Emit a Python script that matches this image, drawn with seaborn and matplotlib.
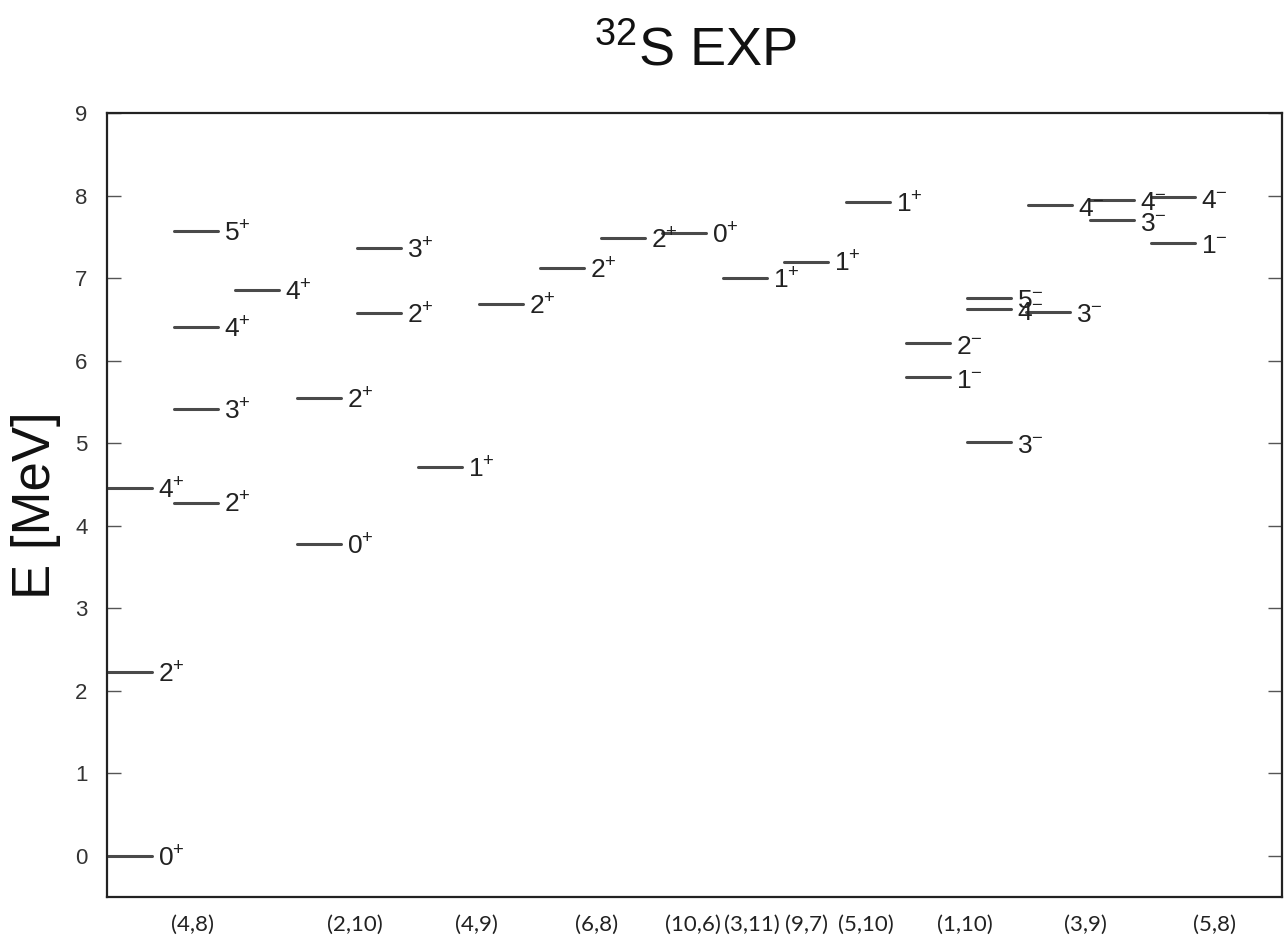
import matplotlib
matplotlib.use("Agg")
import matplotlib.pyplot as plt
import numpy as np
import pandas as pd
import seaborn as sns

# Level energies (MeV), spins, parities and horizontal slot of each level
energies = [0.00, 2.23, 4.46, 4.28, 5.41, 6.41, 7.57, 6.85, 3.78, 5.55,
            6.58, 7.36, 4.71, 6.69, 7.12, 7.48, 7.54, 7.00, 7.20, 7.92,
            5.80, 6.21, 5.01, 6.62, 6.76, 6.59, 7.88, 7.70, 7.95, 7.43, 7.98]
spins = [0, 2, 4, 2, 3, 4, 5, 4, 0, 2,
         2, 3, 1, 2, 2, 2, 0, 1, 1, 1,
         1, 2, 3, 4, 5, 3, 4, 3, 4, 1, 4]
parities = ["+"] * 20 + ["-"] * 11
level_x = [1, 1, 1, 67, 67, 67, 67, 128, 190, 190,
           250, 250, 311, 372, 433, 494, 555, 616, 677, 739,
           799, 799, 860, 860, 860, 919, 921, 983, 983, 1044, 1044]

# Configuration labels along the bottom
config_labels = ["(4,8)", "(2,10)", "(4,9)", "(6,8)", "(10,6)", "(3,11)",
                 "(9,7)", "(5,10)", "(1,10)", "(3,9)", "(5,8)"]
config_pos = [86, 248, 369, 490, 586, 645, 699, 759, 858, 978, 1108]

LEVEL_WIDTH = 44

sns.set_theme(style="ticks")
plt.rcParams["font.family"] = ["Liberation Sans", "DejaVu Sans"]
plt.rcParams["mathtext.fontset"] = "custom"
plt.rcParams["mathtext.rm"] = "Liberation Sans"
plt.rcParams["mathtext.it"] = "Liberation Sans:italic"
plt.rcParams["mathtext.bf"] = "Liberation Sans:bold"
plt.rcParams["mathtext.default"] = "regular"

W, H = 1284, 941
fig = plt.figure(figsize=(W / 100, H / 100), dpi=100)
ax = fig.add_axes([107 / W, 44 / H, (1282 - 107) / W, (897 - 113) / H])

# Long-form table: two endpoints per level
rows = []
for i, (x0, e) in enumerate(zip(level_x, energies)):
    rows.append({"level": i, "x": x0, "E": e})
    rows.append({"level": i, "x": x0 + LEVEL_WIDTH, "E": e})
df = pd.DataFrame(rows)

sns.lineplot(data=df, x="x", y="E", units="level", estimator=None,
             sort=False, color="#4a4a4a", linewidth=2.2, ax=ax)

for x0, e, j, p in zip(level_x, energies, spins, parities):
    ax.annotate(f"${j}^{{{p}}}$", xy=(x0 + LEVEL_WIDTH, e),
                xytext=(4, -7.5), textcoords="offset points",
                ha="left", va="baseline", fontsize=19, color="#222222")

ax.set_xlim(0, 1175)
ax.set_ylim(-0.5, 9)
ax.set_yticks(range(0, 10))
ax.set_xticks(config_pos)
ax.set_xticklabels(config_labels, fontfamily="Lato", fontsize=16, color="#222222")
ax.set_xlabel("")
ax.set_ylabel("")

ax.tick_params(axis="y", direction="in", length=10, width=1, left=True,
               right=True, labelsize=16, pad=14, labelcolor="#333333",
               color="#555555")
ax.tick_params(axis="x", length=0, pad=13)

for side in ["left", "right", "top", "bottom"]:
    ax.spines[side].set_visible(True)
    ax.spines[side].set_linewidth(1.6)
    ax.spines[side].set_color("#222222")

fig.text(695 / W, 1 - 65 / H, "$^{32}$S EXP", ha="center", va="baseline",
         fontsize=39, color="#111111")
fig.text(36 / W, 1 - 505 / H, "E [MeV]", rotation=90, ha="center",
         va="center", fontsize=38, color="#111111")

fig.savefig("out.png", dpi=100, facecolor="white")
